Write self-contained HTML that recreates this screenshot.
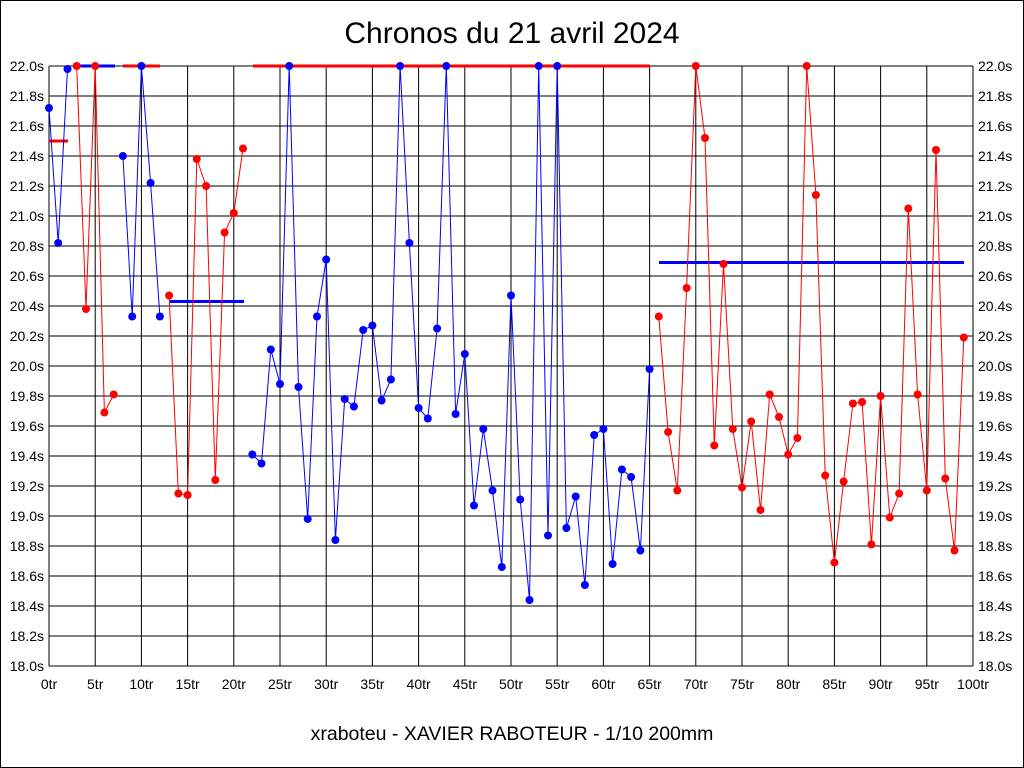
<!DOCTYPE html>
<html><head><meta charset="utf-8"><style>
html,body{margin:0;padding:0;background:#fff}
svg{display:block}
text{font-family:"Liberation Sans",Arial,sans-serif}
</style></head><body>
<svg id="s" width="1024" height="768" xmlns="http://www.w3.org/2000/svg">
<rect x="0.5" y="0.5" width="1023" height="767" fill="#fff" stroke="#000"/>
<text x="512" y="43" font-size="30" text-anchor="middle">Chronos du 21 avril 2024</text>
<text x="512" y="740" font-size="19.5" text-anchor="middle">xraboteu - XAVIER RABOTEUR - 1/10 200mm</text>
<g id="g"></g>
</svg>
<script>
var X0=49,X1=973,Y0=66,Y1=666;
function X(i){return X0+(X1-X0)*i/100}
function Y(v){return Y0+(22-v)*150}
var h='';
for(var k=0;k<=20;k++){var y=Y0+k*30;h+='<line x1="'+X0+'" y1="'+y+'" x2="'+X1+'" y2="'+y+'" stroke="#000" stroke-width="1"/>';
var v=(22-k*0.2).toFixed(1)+'s';
h+='<text x="44" y="'+(y+5)+'" font-size="14" text-anchor="end">'+v+'</text>';
h+='<text x="978" y="'+(y+5)+'" font-size="14">'+v+'</text>';}
for(var k=0;k<=20;k++){var x=X(k*5);h+='<line x1="'+x+'" y1="'+Y0+'" x2="'+x+'" y2="'+Y1+'" stroke="#000" stroke-width="1"/>';
h+='<text x="'+x+'" y="689" font-size="14" text-anchor="middle">'+(k*5)+'tr</text>';}
var d=[21.72,20.82,21.98,22,20.38,22,19.69,19.81,21.40,20.33,22,21.22,20.33,20.47,19.15,19.14,21.38,21.20,19.24,20.89,21.02,21.45,
19.41,19.35,20.11,19.88,22,19.86,18.98,20.33,20.71,18.84,19.78,19.73,20.24,20.27,19.77,19.91,22,20.82,19.72,19.65,20.25,22,19.68,20.08,19.07,19.58,19.17,18.66,20.47,19.11,18.44,22,18.87,22,18.92,19.13,18.54,19.54,19.58,18.68,19.31,19.26,18.77,19.98,
20.33,19.56,19.17,20.52,22,21.52,19.47,20.68,19.58,19.19,19.63,19.04,19.81,19.66,19.41,19.52,22,21.14,19.27,18.69,19.23,19.75,19.76,18.81,19.80,18.99,19.15,21.05,19.81,19.17,21.44,19.25,18.77,20.19];
var runs=[[0,2,'#00f'],[3,7,'#f00'],[8,12,'#00f'],[13,21,'#f00'],[22,65,'#00f'],[66,99,'#f00']];
var bars=[[49,68,21.5,'#f00'],[77,115,22,'#00f'],[123,160,22,'#f00'],[170,244,20.43,'#00f'],[253,650,22,'#f00'],[659,964,20.69,'#00f']];
bars.forEach(function(b){h+='<line x1="'+b[0]+'" y1="'+Y(b[2])+'" x2="'+b[1]+'" y2="'+Y(b[2])+'" stroke="'+b[3]+'" stroke-width="3"/>';});
runs.forEach(function(r){var p=[];for(var i=r[0];i<=r[1];i++)p.push(X(i).toFixed(1)+','+Y(d[i]).toFixed(1));
h+='<polyline points="'+p.join(' ')+'" fill="none" stroke="'+r[2]+'" stroke-width="1"/>';
for(var i=r[0];i<=r[1];i++)h+='<circle cx="'+X(i).toFixed(1)+'" cy="'+Y(d[i]).toFixed(1)+'" r="4" fill="'+r[2]+'"/>';});
document.getElementById('g').innerHTML=h;
</script>
</body></html>
